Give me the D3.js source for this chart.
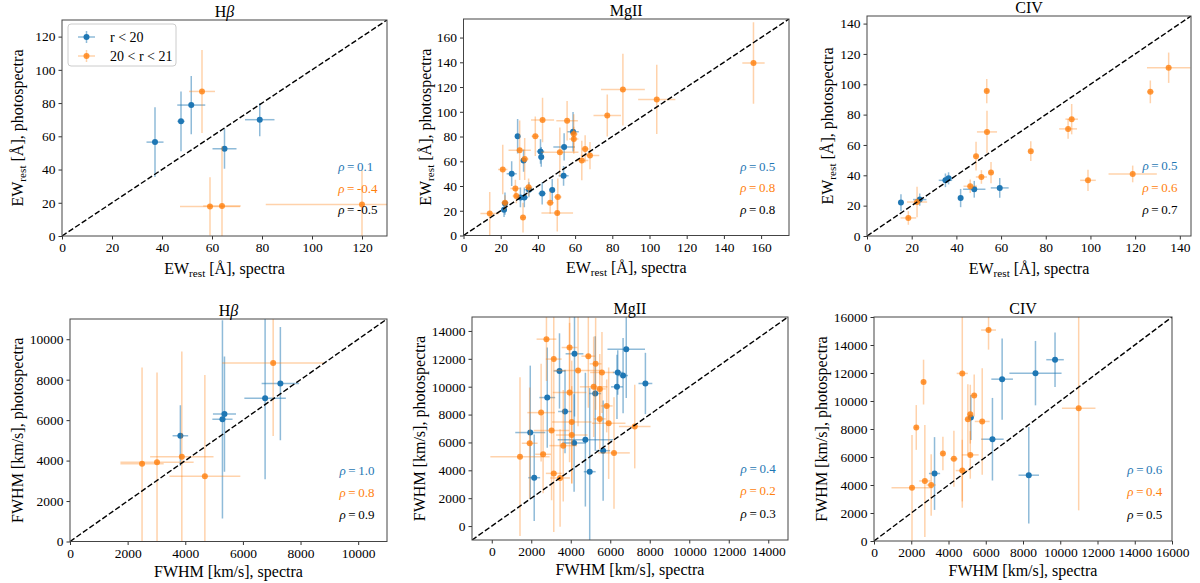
<!DOCTYPE html>
<html>
<head>
<meta charset="utf-8">
<script src="https://cdn.jsdelivr.net/npm/d3@7"></script>
<style>
  body { margin: 0; background: #fff; }
  svg, text { font-family: 'Liberation Serif', 'DejaVu Serif', serif; }
  text { fill: #000; }
</style>
</head>
<body>
<svg id="fig" width="1200" height="583" font-family="Liberation Serif, serif"></svg>
<script>
// each point: [x, xerr, y, yerr]   (blue = r < 20, orange = 20 < r < 21)
const ewHbBlue = [[37.2,3.4,56.5,21],[47.6,1.5,69,18],[51.7,5.6,78.8,17.5],[65,4.8,52.5,12],[79.1,5.9,70,10]]
const ewHbOrange = [[56,5.2,87,25],[59.2,12,17.8,17.5],[64,7.5,18,36],[120,38.5,19,20.5]]

const ewMgBlue = [[29.1,1.2,80.2,14],[25.9,2.7,50,10],[22.3,1.5,25.8,9],[21.8,1.5,20.9,6],[32.3,1.5,60.6,9],
  [30.6,2,30.8,8],[32.7,2,30.8,8],[35.2,2.5,37,6],[41.4,2,67.9,10],[41.8,1.5,63.5,8],[42.3,2,34,9],
  [47.7,1.5,36.7,9],[54.1,5.8,71.6,11],[53.8,2.7,48.2,8],[58.9,3.1,83.9,16]]
const ewMgOrange = [[14.1,5,17.7,17.5],[21.1,2.5,53.4,20],[22.3,2,26.5,6],[27.9,2.7,38,7],[28.4,2,32,6],
  [30.2,6,68.9,24],[32.9,2,61.9,17],[32,1.5,14.5,12],[35,2,39,7],[38.6,2,80.2,16],[42.5,6.2,93.3,18],
  [46.6,2,26.5,9],[50.7,2,31.1,15],[50.4,8.5,18.2,15],[51.8,10,67.3,20],[55.7,5.8,92.8,16],[59.3,2,82,16],
  [59.3,2.5,78,10],[63.6,3.5,60.6,16],[65.4,2,70,11],[68,5,64.6,11],[77.3,7.4,97,17],[85.7,11.8,118,29],
  [103.9,10,110,28],[155.9,6,139.4,33]]

const ewCivBlue = [[15.2,1,22,5.5],[23.6,3,24,4],[35.1,3,36.7,4.5],[36.5,2,38,4],[41.9,1,25,6],[48,5,30.8,5.5],[59.4,4,31.7,6.5]]
const ewCivOrange = [[18.5,3.5,11.9,4.5],[22.4,4.5,22.4,10],[46.2,3,32.8,4.5],[48.8,1,52.6,9.5],[51.2,2.5,38.9,4.5],
  [53.6,1,95.5,8],[53.7,4.5,68.6,14],[55.5,1,41.8,7],[73.3,1,55.9,6.5],[90,4,70.6,6.5],[91.6,2.8,77,10],
  [98.9,3.5,36.7,7],[118.9,10.8,40.9,5.5],[126.8,1.5,95,7.5],[135,9.7,110.9,10]]

const fwHbBlue = [[3830,270,5230,1500],[5290,350,6040,4900],[5360,400,6300,2850],[6770,720,7080,4000],[7300,650,7810,2800]]
const fwHbOrange = [[2500,750,3840,4760],[3020,1270,3920,4430],[3880,1100,4190,5200],[4680,1230,3230,5000],[7050,1770,8820,3600]]

const fwMgBlue = [[1950,760,6710,4800],[2150,300,3470,3100],[2810,400,9220,3600],[3430,300,11130,2700],
  [3710,350,8220,3000],[4190,450,12360,4500],[4170,600,5960,3500],[4740,1400,6200,4800],[4960,300,3900,6000],
  [5240,300,9510,4100],[5640,350,5410,3600],[6340,300,9990,2300],[6380,250,11020,1600],[6650,250,10800,2700],
  [6810,950,12690,3500],[7780,350,10230,2200]]
const fwMgOrange = [[1430,1500,4980,5700],[1920,400,5940,4000],[2770,500,13410,3000],[2500,700,8140,3500],
  [2600,400,5150,2800],[3030,900,6850,5000],[3140,400,3780,4200],[3140,400,11980,4000],[3460,500,3450,3500],
  [3620,700,5770,4000],[3940,400,12810,3500],[3940,850,9580,5000],[4050,1000,7470,4400],[4050,800,6540,3500],
  [4370,1200,11160,4000],[4890,350,12190,3700],[5160,700,9990,3600],[5260,300,11640,3300],[5470,300,9840,2500],
  [5580,600,11020,2900],[5470,300,7690,2200],[5820,300,8620,1900],[5920,850,7380,4000],[6190,800,5250,4000],
  [7240,800,7140,3000]]

const fwCivBlue = [[3250,300,4820,2600],[5200,150,8820,1600],[6360,600,7270,2950],[6880,580,11560,2900],
  [8310,550,4700,3450],[8670,1400,11990,2300],[9720,470,12950,1950]]
const fwCivOrange = [[2040,1100,3810,3770],[2270,100,8110,1600],[2660,100,11350,1600],[2730,300,4290,4000],
  [3070,250,4000,2200],[3700,100,6250,1200],[4290,200,5870,2000],[4740,300,11970,9600],[4740,350,5030,2200],
  [5040,150,8700,2500],[5170,100,9060,2100],[5170,450,6150,1700],[5380,150,10400,1500],[5810,400,8540,3800],
  [6150,400,15070,1400],[10990,900,9490,7300]]

// correlation coefficients: blue, orange, all
const rhoValues = [['0.1','-0.4','-0.5'],['0.5','0.8','0.8'],['0.5','0.6','0.7'],
                   ['1.0','0.8','0.9'],['0.4','0.2','0.3'],['0.6','0.4','0.5']]
const titles = ['Hβ','MgII','CIV','Hβ','MgII','CIV']
const legendLabels = ['r < 20','20 < r < 21']

const ticks20 = d3.range(0, 121, 20)
const ticks160 = d3.range(0, 161, 20)
const ticks140 = d3.range(0, 141, 20)
const ticks10k = d3.range(0, 10001, 2000)
const ticks14k = d3.range(0, 14001, 2000)
const ticks16k = d3.range(0, 16001, 2000)

const blue = '#1f77b4'
const orange = '#ff7f0e'
const serif = "'Liberation Serif', 'DejaVu Serif', serif"

const panels = [
  {box:[62,387,20,236], dom:[0,130], ticks:ticks20, kind:'ew', blue:ewHbBlue, orange:ewHbOrange, ylx:23},
  {box:[463.5,789,19,235.5], dom:[0,175], ticks:ticks160, kind:'ew', blue:ewMgBlue, orange:ewMgOrange, ylx:431},
  {box:[867,1191,16,236], dom:[0,145], ticks:ticks140, kind:'ew', blue:ewCivBlue, orange:ewCivOrange, ylx:833},
  {box:[70,387,319,541.5], dom:[0,11000], ticks:ticks10k, kind:'fw', blue:fwHbBlue, orange:fwHbOrange, ylx:23},
  {box:[472,788,317,540], dom:[-1000,15000], ticks:ticks14k, kind:'fw', blue:fwMgBlue, orange:fwMgOrange, ylx:425},
  {box:[874,1172,317,541], dom:[0,16000], ticks:ticks16k, kind:'fw', blue:fwCivBlue, orange:fwCivOrange, ylx:827}
]

const svg = d3.select('#fig')

function labelText(sel, kind, suffix) {
  if (kind === 'ew') {
    sel.append('tspan').text('EW')
    sel.append('tspan').attr('font-size', '70%').attr('dy', 3).text('rest')
    sel.append('tspan').attr('dy', -3).text(' [Å], ' + suffix)
  } else {
    sel.text('FWHM [km/s], ' + suffix)
  }
}

panels.forEach((p, i) => {
  const [left, right, top, bottom] = p.box
  const x = d3.scaleLinear().domain(p.dom).range([left, right])
  const y = d3.scaleLinear().domain(p.dom).range([bottom, top])
  const g = svg.append('g')

  svg.append('clipPath').attr('id', 'clip' + i)
    .append('rect').attr('x', left).attr('y', top)
    .attr('width', right - left).attr('height', bottom - top)

  const plot = g.append('g').attr('clip-path', `url(#clip${i})`)

  const series = [
    {data: p.blue, color: blue, barOp: 0.5, dotOp: 1},
    {data: p.orange, color: orange, barOp: 0.35, dotOp: 0.8}
  ]
  series.forEach(s => {
    const sg = plot.append('g')
    sg.selectAll('line.xe').data(s.data).enter().append('line')
      .attr('x1', d => x(d[0] - d[1])).attr('x2', d => x(d[0] + d[1]))
      .attr('y1', d => y(d[2])).attr('y2', d => y(d[2]))
      .attr('stroke', s.color).attr('stroke-opacity', s.barOp).attr('stroke-width', 1.5)
    sg.selectAll('line.ye').data(s.data).enter().append('line')
      .attr('x1', d => x(d[0])).attr('x2', d => x(d[0]))
      .attr('y1', d => y(d[2] - d[3])).attr('y2', d => y(d[2] + d[3]))
      .attr('stroke', s.color).attr('stroke-opacity', s.barOp).attr('stroke-width', 1.5)
    sg.selectAll('circle').data(s.data).enter().append('circle')
      .attr('cx', d => x(d[0])).attr('cy', d => y(d[2])).attr('r', 3)
      .attr('fill', s.color).attr('fill-opacity', s.dotOp)
  })

  // one-to-one line
  plot.append('line')
    .attr('x1', x(p.dom[0])).attr('y1', y(p.dom[0]))
    .attr('x2', x(p.dom[1])).attr('y2', y(p.dom[1]))
    .attr('stroke', '#000').attr('stroke-width', 1.4).attr('stroke-dasharray', '5.5,2.4')

  // axes
  const fmt = d3.format('d')
  const xAxis = g.append('g').attr('transform', `translate(0,${bottom})`)
    .call(d3.axisBottom(x).tickValues(p.ticks).tickSize(3.5).tickPadding(3).tickFormat(fmt))
  const yAxis = g.append('g').attr('transform', `translate(${left},0)`)
    .call(d3.axisLeft(y).tickValues(p.ticks).tickSize(3.5).tickPadding(3).tickFormat(fmt))
  ;[xAxis, yAxis].forEach(a => {
    a.select('.domain').remove()
    a.attr('font-family', serif).attr('font-size', 13.5)
    a.selectAll('line').attr('stroke', '#333')
    a.selectAll('text').attr('font-family', serif).attr('font-size', '13.5px').attr('fill', '#000')
  })

  g.append('rect').attr('x', left).attr('y', top)
    .attr('width', right - left).attr('height', bottom - top)
    .attr('fill', 'none').attr('stroke', '#444').attr('stroke-width', 1)

  // title
  const t = g.append('text').attr('x', (left + right) / 2).attr('y', top - 3.5)
    .attr('text-anchor', 'middle').attr('font-size', '16px').attr('font-family', serif)
  if (titles[i] === 'Hβ') {
    t.append('tspan').text('H')
    t.append('tspan').attr('font-style', 'italic').text('β')
  } else {
    t.text(titles[i])
  }

  // axis labels
  g.append('text').attr('x', (left + right) / 2).attr('y', bottom + (i < 3 ? 37.5 : 35))
    .attr('text-anchor', 'middle').attr('font-size', '16px').attr('font-family', serif)
    .call(labelText, p.kind, 'spectra')
  g.append('text')
    .attr('transform', `translate(${p.ylx},${(top + bottom) / 2}) rotate(-90)`)
    .attr('text-anchor', 'middle').attr('font-size', '16px').attr('font-family', serif)
    .call(labelText, p.kind, 'photospectra')

  // rho annotations
  const rhoColors = [blue, orange, '#000']
  rhoValues[i].forEach((v, k) => {
    const tx = g.append('text')
      .attr('x', left + 0.85 * (right - left))
      .attr('y', bottom - (0.3 - 0.1 * k) * (bottom - top))
      .attr('font-size', '13px').attr('font-family', serif)
    tx.append('tspan').attr('font-style', 'italic').attr('fill', rhoColors[k]).text('ρ')
    tx.append('tspan').attr('fill', rhoColors[k]).text('\u2009=\u2009' + v)
  })

  // legend in first panel
  if (i === 0) {
    const lg = g.append('g')
    lg.append('rect').attr('x', 68).attr('y', 24).attr('width', 108).attr('height', 42)
      .attr('rx', 3).attr('fill', '#fff').attr('fill-opacity', 0.8)
      .attr('stroke', '#ccc').attr('stroke-width', 1)
    const items = [{c: blue, op: 0.5, dop: 1}, {c: orange, op: 0.35, dop: 0.8}]
    items.forEach((it, k) => {
      const cy = 37 + k * 19
      lg.append('line').attr('x1', 78).attr('x2', 95).attr('y1', cy).attr('y2', cy)
        .attr('stroke', it.c).attr('stroke-opacity', it.op).attr('stroke-width', 1.5)
      lg.append('line').attr('x1', 86.5).attr('x2', 86.5).attr('y1', cy - 6).attr('y2', cy + 6)
        .attr('stroke', it.c).attr('stroke-opacity', it.op).attr('stroke-width', 1.5)
      lg.append('circle').attr('cx', 86.5).attr('cy', cy).attr('r', 3)
        .attr('fill', it.c).attr('fill-opacity', it.dop)
      lg.append('text').attr('x', 110).attr('y', cy + 5).attr('font-size', '14px')
        .attr('font-family', serif).text(legendLabels[k])
    })
  }
})
</script>
</body>
</html>
